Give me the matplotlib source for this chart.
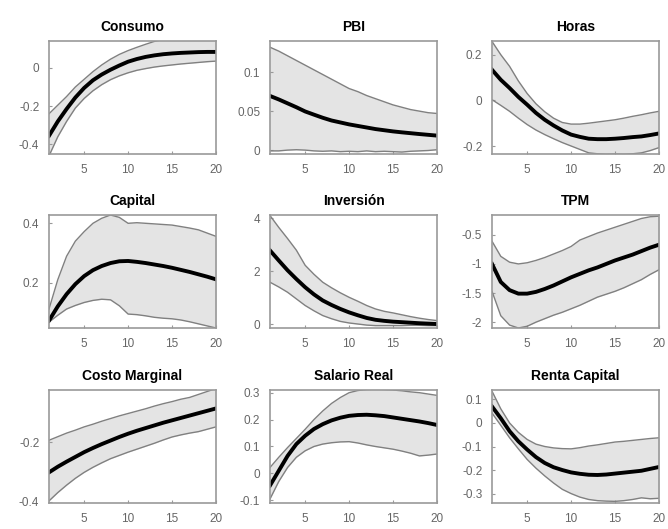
import numpy as np
import matplotlib.pyplot as plt

plt.rcParams['font.family'] = ['Liberation Sans', 'DejaVu Sans']

# horizonte (trimestres)
periodos = np.arange(1, 21)

titulos = ['Consumo', 'PBI', 'Horas', 'Capital', 'Inversión', 'TPM',
           'Costo Marginal', 'Salario Real', 'Renta Capital']

consumo_med = [-0.355, -0.28, -0.215, -0.155, -0.105, -0.065, -0.035, -0.01, 0.012, 0.032,
               0.046, 0.057, 0.065, 0.071, 0.075, 0.078, 0.08, 0.082, 0.083, 0.083]
consumo_sup = [-0.24, -0.195, -0.15, -0.1, -0.06, -0.02, 0.015, 0.045, 0.07, 0.09,
               0.107, 0.123, 0.138, 0.148, 0.156, 0.162, 0.166, 0.168, 0.17, 0.17]
consumo_inf = [-0.46, -0.36, -0.28, -0.21, -0.16, -0.12, -0.088, -0.062, -0.042, -0.026,
               -0.013, -0.004, 0.004, 0.01, 0.015, 0.02, 0.024, 0.028, 0.032, 0.035]

pbi_med = [0.0695, 0.065, 0.06, 0.055, 0.0496, 0.0455, 0.0415, 0.038, 0.0355, 0.033,
           0.031, 0.029, 0.027, 0.0255, 0.024, 0.0228, 0.0217, 0.0206, 0.0196, 0.0186]
pbi_sup = [0.132, 0.127, 0.121, 0.115, 0.109, 0.103, 0.097, 0.091, 0.085, 0.079,
           0.075, 0.07, 0.066, 0.062, 0.058, 0.055, 0.052, 0.05, 0.048, 0.047]
pbi_inf = [-0.001, -0.001, 0.0, 0.0005, 0.0, -0.001, -0.0015, -0.001, -0.002, -0.0015,
           -0.002, -0.001, -0.002, -0.0015, -0.002, -0.0025, -0.0015, -0.001, -0.0005, 0.0005]

horas_med = [0.134, 0.09, 0.054, 0.015, -0.019, -0.055, -0.085, -0.11, -0.132, -0.15,
             -0.16, -0.168, -0.17, -0.17, -0.168, -0.165, -0.161, -0.158, -0.152, -0.145]
horas_sup = [0.258, 0.2, 0.149, 0.085, 0.03, -0.015, -0.05, -0.078, -0.097, -0.104,
             -0.104, -0.1, -0.095, -0.09, -0.085, -0.078, -0.07, -0.063, -0.055, -0.048]
horas_inf = [0.003, -0.022, -0.048, -0.078, -0.106, -0.13, -0.15, -0.168, -0.185, -0.2,
             -0.215, -0.23, -0.234, -0.236, -0.235, -0.236, -0.234, -0.23, -0.22, -0.207]

capital_med = [0.072, 0.12, 0.161, 0.195, 0.222, 0.242, 0.256, 0.266, 0.272, 0.273,
               0.27, 0.266, 0.261, 0.256, 0.25, 0.243, 0.236, 0.228, 0.22, 0.211]
capital_sup = [0.111, 0.21, 0.289, 0.34, 0.372, 0.4, 0.417, 0.428, 0.42, 0.4,
               0.402, 0.4, 0.398, 0.396, 0.394, 0.389, 0.384, 0.378, 0.367, 0.356]
capital_inf = [0.067, 0.09, 0.111, 0.123, 0.133, 0.14, 0.144, 0.142, 0.122, 0.094,
               0.092, 0.088, 0.083, 0.08, 0.078, 0.074, 0.068, 0.061, 0.054, 0.047]

inversion_med = [2.78, 2.4, 2.03, 1.7, 1.39, 1.12, 0.89, 0.72, 0.57, 0.44,
                 0.33, 0.23, 0.16, 0.12, 0.09, 0.07, 0.05, 0.03, 0.015, 0.0]
inversion_sup = [4.1, 3.65, 3.23, 2.79, 2.22, 1.88, 1.58, 1.37, 1.18, 1.01,
                 0.86, 0.7, 0.57, 0.48, 0.42, 0.35, 0.28, 0.22, 0.17, 0.13]
inversion_inf = [1.58, 1.4, 1.2, 0.95, 0.7, 0.5, 0.32, 0.2, 0.1, 0.04,
                 0.0, -0.04, -0.06, -0.06, -0.06, -0.06, -0.05, -0.05, -0.06, -0.06]

tpm_med = [-1.0, -1.31, -1.45, -1.51, -1.51, -1.48, -1.43, -1.37, -1.3, -1.23,
           -1.17, -1.11, -1.06, -1.0, -0.94, -0.89, -0.84, -0.78, -0.72, -0.67]
tpm_sup = [-0.61, -0.87, -0.97, -1.0, -0.98, -0.94, -0.89, -0.83, -0.77, -0.7,
           -0.59, -0.53, -0.47, -0.42, -0.37, -0.32, -0.27, -0.22, -0.19, -0.18]
tpm_inf = [-1.47, -1.89, -2.05, -2.1, -2.07, -2.0, -1.94, -1.88, -1.83, -1.77,
           -1.71, -1.64, -1.57, -1.52, -1.47, -1.41, -1.34, -1.27, -1.18, -1.1]

cmg_med = [-0.302, -0.283, -0.266, -0.25, -0.234, -0.22, -0.207, -0.195, -0.183, -0.172,
           -0.162, -0.153, -0.144, -0.135, -0.127, -0.119, -0.111, -0.103, -0.095, -0.087]
cmg_sup = [-0.194, -0.182, -0.17, -0.16, -0.149, -0.14, -0.13, -0.121, -0.112, -0.104,
           -0.096, -0.088, -0.079, -0.071, -0.064, -0.056, -0.05, -0.04, -0.03, -0.02]
cmg_inf = [-0.398, -0.37, -0.345, -0.322, -0.302, -0.285, -0.27, -0.256, -0.245, -0.234,
           -0.224, -0.214, -0.204, -0.193, -0.183, -0.176, -0.17, -0.165, -0.157, -0.149]

salario_med = [-0.045, 0.01, 0.065, 0.109, 0.14, 0.165, 0.183, 0.197, 0.207, 0.214,
               0.217, 0.218, 0.216, 0.213, 0.208, 0.203, 0.198, 0.193, 0.187, 0.18]
salario_sup = [0.022, 0.06, 0.096, 0.13, 0.164, 0.2, 0.232, 0.26, 0.282, 0.3,
               0.308, 0.312, 0.313, 0.312, 0.31, 0.307, 0.303, 0.3, 0.295, 0.29]
salario_inf = [-0.095, -0.03, 0.022, 0.06, 0.084, 0.1, 0.109, 0.114, 0.117, 0.118,
               0.113, 0.106, 0.1, 0.095, 0.09, 0.083, 0.075, 0.065, 0.068, 0.072]

renta_med = [0.07, 0.02, -0.035, -0.078, -0.113, -0.145, -0.17, -0.188, -0.2, -0.21,
             -0.216, -0.22, -0.221, -0.219, -0.215, -0.211, -0.207, -0.203, -0.195, -0.187]
renta_sup = [0.135, 0.06, 0.0, -0.04, -0.07, -0.09, -0.1, -0.106, -0.109, -0.11,
             -0.105, -0.098, -0.093, -0.087, -0.081, -0.078, -0.074, -0.07, -0.066, -0.063]
renta_inf = [0.042, -0.01, -0.063, -0.11, -0.155, -0.192, -0.225, -0.255, -0.282, -0.3,
             -0.315, -0.325, -0.33, -0.332, -0.333, -0.33, -0.325, -0.318, -0.322, -0.32]

medias = [consumo_med, pbi_med, horas_med, capital_med, inversion_med, tpm_med,
          cmg_med, salario_med, renta_med]
superiores = [consumo_sup, pbi_sup, horas_sup, capital_sup, inversion_sup, tpm_sup,
              cmg_sup, salario_sup, renta_sup]
inferiores = [consumo_inf, pbi_inf, horas_inf, capital_inf, inversion_inf, tpm_inf,
              cmg_inf, salario_inf, renta_inf]

ylims = [(-0.45, 0.14), (-0.005, 0.14), (-0.235, 0.26), (0.047, 0.428), (-0.15, 4.12),
         (-2.1, -0.16), (-0.405, -0.025), (-0.11, 0.31), (-0.34, 0.14)]
yticks = [[-0.4, -0.2, 0], [0, 0.05, 0.1], [-0.2, 0, 0.2], [0.2, 0.4], [0, 2, 4],
          [-2, -1.5, -1, -0.5], [-0.4, -0.2], [-0.1, 0, 0.1, 0.2, 0.3],
          [-0.3, -0.2, -0.1, 0, 0.1]]

fig = plt.figure(figsize=(6.68, 5.29), dpi=100)

lefts = [49, 270, 492]
tops = [41, 215, 390]
ancho, alto = 167, 113
W, H = 668, 529

for i in range(9):
    fila, col = divmod(i, 3)
    ax = fig.add_axes([lefts[col] / W, 1 - (tops[fila] + alto) / H, ancho / W, alto / H])
    ax.fill_between(periodos, inferiores[i], superiores[i], color='#e4e4e4', lw=0)
    ax.plot(periodos, superiores[i], color='#808080', lw=1)
    ax.plot(periodos, inferiores[i], color='#808080', lw=1)
    ax.plot(periodos, medias[i], color='black', lw=2.8)
    ax.set_xlim(1, 20)
    ax.set_ylim(*ylims[i])
    ax.set_xticks([5, 10, 15, 20])
    ax.set_yticks(yticks[i])
    ax.set_yticklabels([f'{v:g}' for v in yticks[i]])
    ax.set_title(titulos[i], fontsize=10, fontweight='bold', pad=7)
    ax.tick_params(direction='in', length=2, color='#999999', labelsize=8.5,
                   labelcolor='#666666', pad=7)
    for s in ax.spines.values():
        s.set_color('#999999')
        s.set_linewidth(1.2)

plt.savefig('out.png', dpi=100)
